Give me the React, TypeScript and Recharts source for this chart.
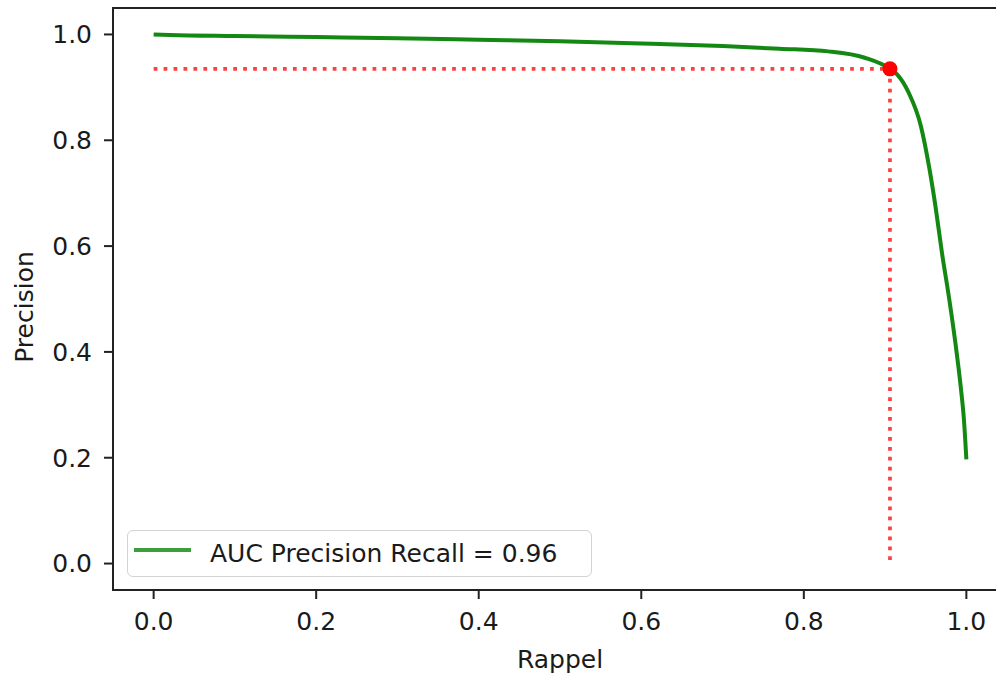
import {
  ComposedChart, Line, Scatter, XAxis, YAxis, ReferenceArea
} from 'recharts'

// precision-recall curve
const recall = [0, 0.02, 0.1, 0.2, 0.3, 0.4, 0.5, 0.6, 0.7, 0.77, 0.83, 0.875, 0.906, 0.915, 0.929, 0.944, 0.954, 0.962, 0.97, 0.979, 0.987, 0.993, 0.997, 1.0]
const precision = [1.0, 0.999, 0.997, 0.995, 0.993, 0.99, 0.987, 0.983, 0.978, 0.973, 0.968, 0.956, 0.935, 0.924, 0.89, 0.827, 0.751, 0.675, 0.587, 0.499, 0.411, 0.335, 0.272, 0.197]

// chosen threshold
const bestRecall = 0.906
const bestPrecision = 0.935

const ticks = [0, 0.2, 0.4, 0.6, 0.8, 1.0]
const domain: [number, number] = [-0.05, 1.05]
const legendLabel = 'AUC Precision Recall = 0.96'

const FONT = '"DejaVu Sans", sans-serif'
const tickStyle = { fill: '#1a1a1a', fontSize: 25, fontFamily: FONT }

const curve = recall.map((r, i) => ({ x: r, y: precision[i] }))
const guide = [
  { x: 0, y: bestPrecision },
  { x: bestRecall, y: bestPrecision },
  { x: bestRecall, y: 0 },
]
const point = [{ x: bestRecall, y: bestPrecision }]

export default function App() {
  return (
    <div style={{ position: 'absolute', left: 0, top: 0, width: 996, height: 675, overflow: 'hidden', background: '#fff' }}>
      <ComposedChart width={1020} height={675} margin={{ top: 8, right: 13, left: 0, bottom: 0 }}>
        <XAxis
          type="number"
          dataKey="x"
          domain={domain}
          ticks={ticks}
          allowDataOverflow
          tickFormatter={v => v.toFixed(1)}
          height={85}
          tickSize={9}
          tickMargin={13}
          axisLine={false}
          tickLine={{ stroke: '#222', strokeWidth: 2 }}
          tick={tickStyle}
          label={{ value: 'Rappel', position: 'insideBottom', offset: 7, style: { fill: '#1a1a1a', fontSize: 25, fontFamily: FONT } }}
        />
        <YAxis
          type="number"
          dataKey="y"
          domain={domain}
          ticks={ticks}
          allowDataOverflow
          tickFormatter={v => v.toFixed(1)}
          width={113}
          tickSize={9}
          tickMargin={12}
          axisLine={false}
          tickLine={{ stroke: '#222', strokeWidth: 2 }}
          tick={tickStyle}
          label={{
            content: () => (
              <text x={33} y={307} transform="rotate(-90 33 307)" textAnchor="middle"
                fill="#1a1a1a" fontSize={25} fontFamily={FONT}>Precision</text>
            ),
          }}
        />
        <ReferenceArea x1={-0.05} x2={1.05} y1={-0.05} y2={1.05} fill="none" stroke="#222" strokeWidth={2} ifOverflow="visible" />
        <Line
          data={guide}
          dataKey="y"
          type="linear"
          stroke="red"
          strokeOpacity={0.75}
          strokeWidth={3.75}
          strokeDasharray="3.75 6.2"
          dot={false}
          activeDot={false}
          isAnimationActive={false}
        />
        <Scatter
          data={point}
          dataKey="y"
          isAnimationActive={false}
          shape={(p: any) => <circle cx={p.cx} cy={p.cy} r={7.5} fill="red" />}
        />
        <Line
          data={curve}
          dataKey="y"
          type="monotone"
          stroke="#138913"
          strokeWidth={4}
          dot={false}
          activeDot={false}
          isAnimationActive={false}
        />
      </ComposedChart>
      {/* legend box, bottom left like matplotlib's loc='best' */}
      <div style={{
        position: 'absolute', left: 127, top: 530, width: 465, height: 47, boxSizing: 'border-box',
        border: '1px solid #d3d3d3', borderRadius: 6, background: 'rgba(255,255,255,0.8)',
      }}>
        <div style={{ position: 'absolute', left: 6, top: 17, width: 57, height: 4, background: '#3d9e3d' }} />
        <div style={{
          position: 'absolute', left: 82, top: 0, lineHeight: '45px', fontSize: 25,
          fontFamily: FONT, color: '#1a1a1a', whiteSpace: 'nowrap',
        }}>{legendLabel}</div>
      </div>
    </div>
  )
}
